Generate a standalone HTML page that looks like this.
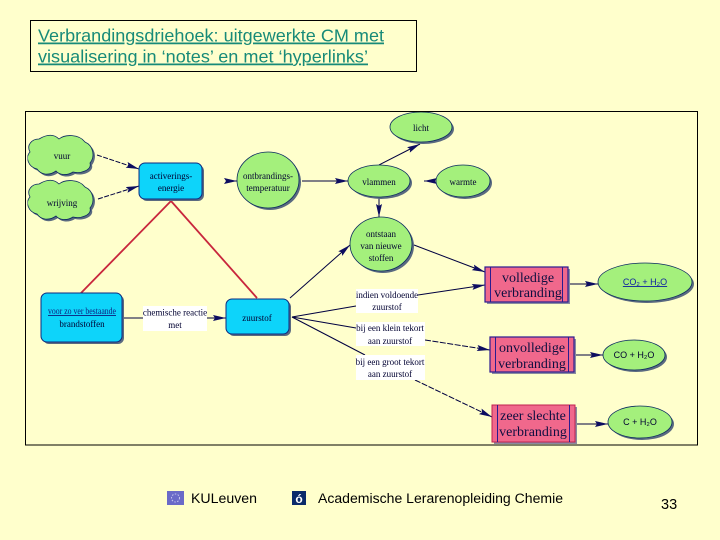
<!DOCTYPE html>
<html><head><meta charset="utf-8"><style>
html,body{margin:0;padding:0;background:#ffffcc}
svg{display:block}
text{font-family:"Liberation Sans",sans-serif}
.s{font-family:"Liberation Serif",serif;font-size:9px;fill:#000030;text-anchor:middle}
.b{font-family:"Liberation Serif",serif;font-size:14px;fill:#101040;text-anchor:middle}
</style></head><body>
<svg width="720" height="540" viewBox="0 0 720 540" xmlns="http://www.w3.org/2000/svg">
<defs>
<marker id="a" markerWidth="16" markerHeight="10" refX="13" refY="5" orient="auto" markerUnits="userSpaceOnUse"><path d="M0 2L13 5L0 8L2 5Z" fill="#0a0a60"/></marker>
<filter id="soft" x="0" y="0" width="100%" height="100%"><feGaussianBlur stdDeviation="0.25"/></filter>
<g id="cl"><path d="M-22 -16C-12 -22 -6 -20 -2 -16C4 -21 18 -21 24 -13C33 -9 34 2 29 8C31 15 20 19 12 17C6 21 -2 20 -5 16C-12 21 -20 20 -24 14C-33 12 -36 2 -31 -3C-35 -10 -29 -16 -22 -16Z"/></g>
</defs>
<rect width="720" height="540" fill="#ffffcc"/>

<rect x="30.500" y="20.500" width="386" height="51" fill="#ffffcc" stroke="#000" stroke-width="1"/>
<g font-size="17.6" fill="#178a78" text-decoration="underline">
<text x="38" y="41.5" textLength="346" lengthAdjust="spacingAndGlyphs">Verbrandingsdriehoek: uitgewerkte CM met</text>
<text x="38" y="62.5" textLength="330" lengthAdjust="spacingAndGlyphs">visualisering in ‘notes’ en met ‘hyperlinks’</text>
</g>

<rect x="25.500" y="111.500" width="672" height="333.500" fill="#ffffcc" stroke="#000" stroke-width="1"/>

<g filter="url(#soft)">
<!-- red links -->
<g stroke="#c8283c" stroke-width="1.8" fill="none">
<line x1="171" y1="201" x2="81" y2="293"/>
<line x1="171" y1="201" x2="257" y2="298"/>
</g>

<!-- connectors -->
<g stroke="#000040" stroke-width="1" fill="none" marker-end="url(#a)">
<line x1="97" y1="155" x2="139" y2="169" stroke-dasharray="5 1.500"/>
<line x1="98" y1="199" x2="139" y2="186" stroke-dasharray="5 1.500"/>
<line x1="226" y1="181" x2="237" y2="181"/>
<line x1="302" y1="181" x2="348" y2="181"/>
<line x1="379" y1="165" x2="420" y2="144"/>
<line x1="435" y1="181" x2="424" y2="181"/>
<line x1="379" y1="198" x2="379" y2="217"/>
<line x1="290" y1="298" x2="350" y2="245"/>
<line x1="414" y1="245" x2="485" y2="272"/>
<line x1="207" y1="318" x2="226" y2="318"/>
<line x1="418" y1="295" x2="485" y2="285"/>
<line x1="425" y1="340" x2="490" y2="350" stroke-dasharray="6 1.500"/>
<line x1="415" y1="380" x2="492" y2="417" stroke-dasharray="6 1.500"/>
<line x1="568" y1="284" x2="598" y2="284"/>
<line x1="574" y1="355" x2="603" y2="355"/>
<line x1="575" y1="424" x2="608" y2="424"/>
</g>
<g stroke="#000040" stroke-width="1" fill="none">
<line x1="122" y1="318" x2="143" y2="318"/>
<line x1="356" y1="306" x2="292" y2="317"/>
<line x1="356" y1="328" x2="292" y2="317"/>
<line x1="365" y1="355" x2="292" y2="317"/>
</g>

<!-- clouds -->
<g>
<use href="#cl" x="63" y="157" fill="#5a6a80"/>
<use href="#cl" x="61" y="155" fill="#a4f07c" stroke="#0a2a60" stroke-width="0.8"/>
<use href="#cl" x="63" y="202" fill="#5a6a80"/>
<use href="#cl" x="61" y="200" fill="#a4f07c" stroke="#0a2a60" stroke-width="0.8"/>
</g>

<!-- blue boxes -->
<g>
<rect x="141" y="165" width="63" height="36" rx="6" fill="#5a6a80"/>
<rect x="139" y="163" width="63" height="36" rx="6" fill="#10d4fa" stroke="#0a2a80"/>
<rect x="43" y="295" width="81" height="49" rx="6" fill="#5a6a80"/>
<rect x="41" y="293" width="81" height="49" rx="6" fill="#10d4fa" stroke="#0a2a80"/>
<rect x="228" y="301" width="63" height="35" rx="6" fill="#5a6a80"/>
<rect x="226" y="299" width="63" height="35" rx="6" fill="#10d4fa" stroke="#0a2a80"/>
</g>

<!-- ellipses -->
<g fill="#5a6a80">
<ellipse cx="270" cy="182" rx="31" ry="28"/>
<ellipse cx="381" cy="183" rx="31" ry="16"/>
<ellipse cx="423" cy="129" rx="31" ry="15"/>
<ellipse cx="465" cy="183" rx="27" ry="16"/>
<ellipse cx="383" cy="246" rx="31" ry="27"/>
<ellipse cx="647" cy="284" rx="47" ry="19"/>
<ellipse cx="636" cy="357" rx="31" ry="15"/>
<ellipse cx="642" cy="424" rx="32" ry="16"/>
</g>
<g fill="#a4f07c" stroke="#0a2a60" stroke-width="0.8">
<ellipse cx="268" cy="180" rx="31" ry="28"/>
<ellipse cx="379" cy="181" rx="31" ry="16"/>
<ellipse cx="421" cy="127" rx="31" ry="15"/>
<ellipse cx="463" cy="181" rx="27" ry="16"/>
<ellipse cx="381" cy="244" rx="31" ry="27"/>
<ellipse cx="645" cy="282" rx="47" ry="19"/>
<ellipse cx="634" cy="355" rx="31" ry="15"/>
<ellipse cx="640" cy="422" rx="32" ry="16"/>
</g>

<!-- pink boxes -->
<g>
<rect x="487" y="269" width="83" height="35" fill="#8a8aa0"/>
<rect x="485" y="267" width="83" height="35" fill="#f0688c" stroke="#2a1a90" stroke-width="1.2"/>
<path d="M490.500 267V302M562.500 267V302" stroke="#2a1a90"/>
<rect x="492" y="339" width="84" height="35" fill="#8a8aa0"/>
<rect x="490" y="337" width="84" height="35" fill="#f0688c" stroke="#2a1a90" stroke-width="1.2"/>
<path d="M495.500 337V372M568.500 337V372" stroke="#2a1a90"/>
<rect x="494" y="407" width="83" height="37" fill="#8a8aa0"/>
<rect x="492" y="405" width="83" height="37" fill="#f0688c" stroke="#c02050" stroke-width="1"/>
<path d="M497.500 405V442M569.500 405V442" stroke="#2a1a90"/>
</g>

<!-- white label backgrounds -->
<g fill="#ffffff">
<rect x="143" y="306" width="64" height="25"/>
<rect x="356" y="289" width="62" height="24"/>
<rect x="356" y="322" width="69" height="24"/>
<rect x="356" y="355" width="69" height="25"/>
</g>

<!-- labels -->
<text class="s" x="62" y="159">vuur</text>
<text class="s" x="62" y="206">wrijving</text>
<text class="s" x="171" y="179">activerings-</text>
<text class="s" x="171" y="191">energie</text>
<text class="s" x="268" y="179">ontbrandings-</text>
<text class="s" x="268" y="191">temperatuur</text>
<text class="s" x="379" y="185">vlammen</text>
<text class="s" x="421" y="131">licht</text>
<text class="s" x="463" y="185">warmte</text>
<text class="s" x="381" y="237">ontstaan</text>
<text class="s" x="381" y="249">van nieuwe</text>
<text class="s" x="381" y="261">stoffen</text>
<text class="s" x="82" y="314" style="fill:#102080" text-decoration="underline" textLength="68" lengthAdjust="spacingAndGlyphs">voor zo ver bestaande</text>
<text class="s" x="82" y="327">brandstoffen</text>
<text class="s" x="175" y="315.500">chemische reactie</text>
<text class="s" x="175" y="328">met</text>
<text class="s" x="257" y="321">zuurstof</text>
<text class="s" x="387" y="298">indien voldoende</text>
<text class="s" x="387" y="310">zuurstof</text>
<text class="s" x="390" y="331">bij een klein tekort</text>
<text class="s" x="390" y="344">aan zuurstof</text>
<text class="s" x="390" y="365">bij een groot tekort</text>
<text class="s" x="390" y="377">aan zuurstof</text>
<text class="b" x="528" y="282">volledige</text>
<text class="b" x="528" y="297">verbranding</text>
<text class="b" x="532" y="352">onvolledige</text>
<text class="b" x="532" y="368">verbranding</text>
<text class="b" x="533" y="420">zeer slechte</text>
<text class="b" x="533" y="436">verbranding</text>
<text x="645" y="285" font-size="9" fill="#1020a0" text-anchor="middle" text-decoration="underline">CO₂ + H₂O</text>
<text x="634" y="358" font-size="9" fill="#000030" text-anchor="middle">CO + H₂O</text>
<text x="640" y="425" font-size="9" fill="#000030" text-anchor="middle">C + H₂O</text>
</g>

<!-- footer -->
<rect x="167" y="491" width="17" height="14" fill="#6a6ac8"/>
<circle cx="175.500" cy="498" r="4" fill="none" stroke="#c8c8f0" stroke-width="1" stroke-dasharray="1.500 1.500"/>
<rect x="292" y="491" width="14" height="14" fill="#0a2a6a"/>
<text x="299" y="503" font-size="12" font-weight="bold" fill="#fff" text-anchor="middle">ó</text>
<text x="191" y="503" font-size="14" fill="#000" textLength="66" lengthAdjust="spacingAndGlyphs">KULeuven</text>
<text x="318" y="503" font-size="13.500" fill="#000" textLength="245" lengthAdjust="spacingAndGlyphs">Academische Lerarenopleiding Chemie</text>
<text x="661" y="509" font-size="14.500" fill="#000">33</text>
</svg>
</body></html>
